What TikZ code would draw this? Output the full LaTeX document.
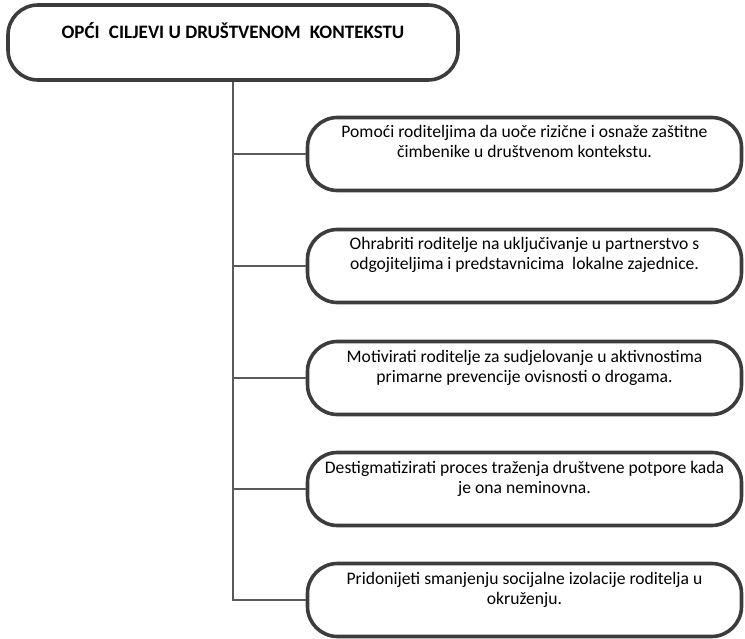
\documentclass[tikz,border=0pt]{standalone}
\usepackage{fontspec}
\setmainfont{Carlito}
\definecolor{rub}{HTML}{3C3C3C}
\definecolor{linija}{HTML}{5A5A5A}
\tikzset{
  naslov/.style={draw=rub, line width=3.6pt, rounded corners=30pt, fill=white,
    minimum width=450pt, minimum height=75pt, align=center,
    font=\fontsize{19}{22}\selectfont\bfseries, text height=13pt, text depth=20pt},
  cilj/.style={draw=rub, line width=3.6pt, rounded corners=30pt, fill=white,
    minimum width=434pt, minimum height=73pt, align=center,
    font=\fontsize{17.6}{20}\selectfont, text height=32pt, text depth=24pt},
  grana/.style={draw=linija, line width=1.3pt}
}
\begin{document}
\begin{tikzpicture}[x=1pt,y=-1pt]
    \useasboundingbox (0,0) rectangle (745,639);
    % glavni okvir
    \node[naslov] (vrh) at (233,42.5) {OPĆI\hspace{5pt} CILJEVI U DRUŠTVENOM\hspace{5pt} KONTEKSTU};
    % ciljevi
    \node[cilj] (c1) at (524.5,154) {Pomoći roditeljima da uoče rizične i osnaže zaštitne\\čimbenike u društvenom kontekstu.};
    \node[cilj] (c2) at (524.5,266) {Ohrabriti roditelje na uključivanje u partnerstvo s\\odgojiteljima i predstavnicima\ \ lokalne zajednice.};
    \node[cilj] (c3) at (524.5,378) {Motivirati roditelje za sudjelovanje u aktivnostima\\primarne prevencije ovisnosti o drogama.};
    \node[cilj] (c4) at (524.5,489) {Destigmatizirati proces traženja društvene potpore kada\\je ona neminovna.};
    \node[cilj] (c5) at (524.5,600) {Pridonijeti smanjenju socijalne izolacije roditelja u\\okruženju.};
    % veze
    \draw[grana] (vrh.south) |- (c5.west);
    \draw[grana] (vrh.south |- c1.west) -- (c1.west);
    \draw[grana] (vrh.south |- c2.west) -- (c2.west);
    \draw[grana] (vrh.south |- c3.west) -- (c3.west);
    \draw[grana] (vrh.south |- c4.west) -- (c4.west);
\end{tikzpicture}
\end{document}
